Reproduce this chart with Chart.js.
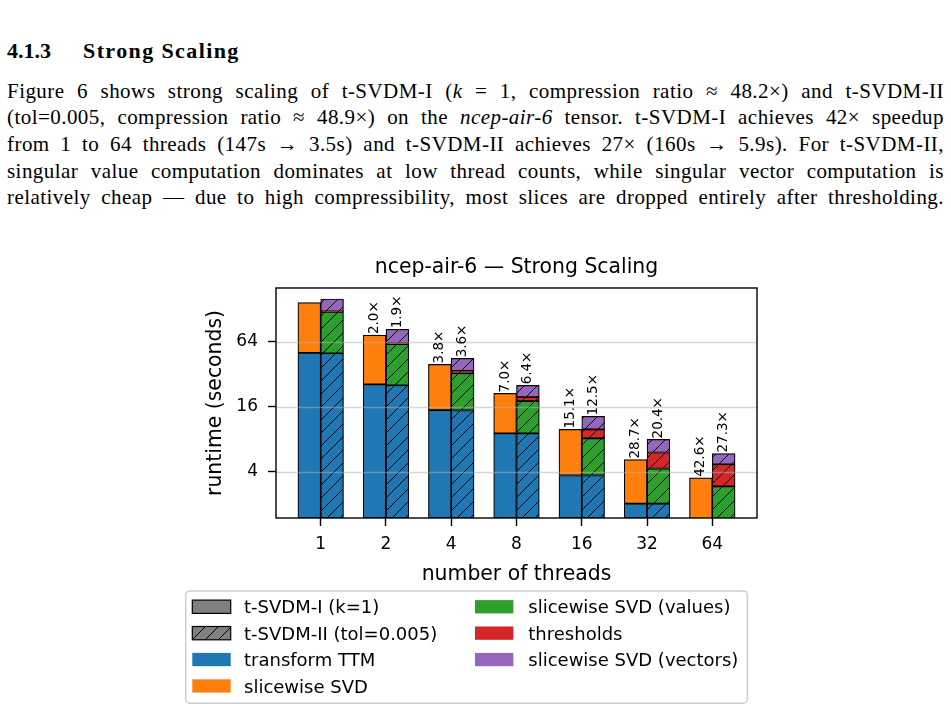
<!DOCTYPE html>
<html lang="en">
<head>
  <meta charset="UTF-8" />
  <title>Strong Scaling</title>
  <script src="https://cdn.jsdelivr.net/npm/chart.js"></script>
  <style>
    body {
      margin: 0;
      width: 951px;
      height: 712px;
      overflow: hidden;
      position: relative;
      background: #fff;
      color: #000;
      font-family: 'Liberation Serif', serif;
    }

    h3 {
      position: absolute;
      left: 7px;
      top: 38.5px;
      margin: 0;
      font-size: 22px;
      line-height: 24px;
      font-weight: bold;
    }

    h3 .num {
      display: inline-block;
      width: 76px;
    }

    h3 .name {
      letter-spacing: 1.4px;
    }

    .para {
      position: absolute;
      left: 7px;
      top: 77.6px;
      width: 937px;
      font-size: 21px;
      letter-spacing: 0.45px;
    }

    .para div {
      height: 26.7px;
      line-height: 26.7px;
      text-align: justify;
      text-align-last: justify;
    }

    canvas {
      position: absolute;
      left: 0;
      top: 0;
    }
  </style>
</head>
<body>

  <h3><span class="num">4.1.3</span><span class="name">Strong Scaling</span></h3>

  <div class="para">
    <div>Figure 6 shows strong scaling of t-SVDM-I (<i>k</i> = 1, compression ratio ≈ 48.2×) and t-SVDM-II</div>
    <div>(tol=0.005, compression ratio ≈ 48.9×) on the <i>ncep-air-6</i> tensor. t-SVDM-I achieves 42× speedup</div>
    <div>from 1 to 64 threads (147s → 3.5s) and t-SVDM-II achieves 27× (160s → 5.9s). For t-SVDM-II,</div>
    <div>singular value computation dominates at low thread counts, while singular vector computation is</div>
    <div>relatively cheap — due to high compressibility, most slices are dropped entirely after thresholding.</div>
  </div>

  <canvas id="chart" width="951" height="712"></canvas>

  <script>
    // runtimes in seconds, per thread count
    const threads = ['1', '2', '4', '8', '16', '32', '64'];
    const ttmI = [50.6, 25.8, 14.9, 9.08, 3.71, 2.04, 1.0];
    const svdI = [96.4, 48.0, 24.6, 12.2, 6.18, 3.17, 2.53];
    const ttmII = [50.0, 25.3, 14.8, 9.08, 3.71, 2.04, 1.0];
    const valuesII = [70.6, 35.6, 17.9, 9.0, 4.45, 2.26, 1.94];
    const thresholdsII = [1.5, 1.5, 1.8, 1.6, 1.73, 1.75, 1.77];
    const vectorsII = [36.9, 21.0, 10.4, 5.6, 3.16, 1.94, 1.21];
    const speedupI = [null, 2.0, 3.8, 7.0, 15.1, 28.7, 42.6];
    const speedupII = [null, 1.9, 3.6, 6.4, 12.5, 20.4, 27.3];
    const yTicks = [4, 16, 64];

    const FONT = "'DejaVu Sans', sans-serif";
    Chart.defaults.font.family = FONT;
    Chart.defaults.color = '#000';

    const colors = {
      ttm: '#1f77b4',
      svd: '#ff7f0e',
      values: '#2ca02c',
      thresholds: '#d62728',
      vectors: '#9467bd',
      grey: '#808080'
    };

    function hatch(color) {
      const n = 13;
      const c = document.createElement('canvas');
      c.width = n;
      c.height = n;
      const g = c.getContext('2d');
      g.fillStyle = color;
      g.fillRect(0, 0, n, n);
      g.strokeStyle = '#000';
      g.lineWidth = 1;
      g.beginPath();
      g.moveTo(0, n); g.lineTo(n, 0);
      g.moveTo(-n / 2, n / 2); g.lineTo(n / 2, -n / 2);
      g.moveTo(n / 2, n * 1.5); g.lineTo(n * 1.5, n / 2);
      g.stroke();
      return g.createPattern(c, 'repeat');
    }

    const pts = arr => arr.map((v, i) => ({ x: i, y: v }));

    const barStyle = {
      borderColor: '#000',
      borderWidth: 1.2,
      borderSkipped: false,
      barThickness: 22.8,
      clip: 0
    };

    const datasets = [
      { label: 'transform TTM', data: pts(ttmI), backgroundColor: colors.ttm, stack: 'I' },
      { label: 'slicewise SVD', data: pts(svdI), backgroundColor: colors.svd, stack: 'I' },
      { label: 'transform TTM', data: pts(ttmII), backgroundColor: hatch(colors.ttm), stack: 'II' },
      { label: 'slicewise SVD (values)', data: pts(valuesII), backgroundColor: hatch(colors.values), stack: 'II' },
      { label: 'thresholds', data: pts(thresholdsII), backgroundColor: hatch(colors.thresholds), stack: 'II' },
      { label: 'slicewise SVD (vectors)', data: pts(vectorsII), backgroundColor: hatch(colors.vectors), stack: 'II' }
    ].map(d => Object.assign({}, barStyle, d));

    // grid on top of bars, axes frame, speedup labels and the legend
    const overlay = {
      id: 'overlay',
      afterDatasetsDraw(chart) {
        const { ctx, chartArea: a, scales } = chart;
        ctx.save();
        ctx.strokeStyle = 'rgba(176,176,176,0.5)';
        ctx.lineWidth = 1.3;
        yTicks.forEach(v => {
          const y = Math.round(scales.y.getPixelForValue(v)) + 0.5;
          ctx.beginPath();
          ctx.moveTo(a.left, y);
          ctx.lineTo(a.right, y);
          ctx.stroke();
        });
        ctx.strokeStyle = '#000';
        ctx.lineWidth = 1.4;
        ctx.strokeRect(a.left, a.top, a.right - a.left, a.bottom - a.top);

        ctx.fillStyle = '#000';
        ctx.font = '13.5px ' + FONT;
        ctx.textAlign = 'left';
        ctx.textBaseline = 'middle';
        [[1, speedupI], [5, speedupII]].forEach(([di, sp]) => {
          const meta = chart.getDatasetMeta(di);
          sp.forEach((s, i) => {
            if (s === null) return;
            const el = meta.data[i];
            ctx.save();
            ctx.translate(el.x, el.y - 1);
            ctx.rotate(-Math.PI / 2);
            ctx.fillText(s.toFixed(1) + '×', 0, 0);
            ctx.restore();
          });
        });
        ctx.restore();
      },
      afterDraw(chart) {
        const ctx = chart.ctx;
        ctx.save();
        ctx.beginPath();
        ctx.roundRect(185.7, 591, 561.6, 112.3, 4);
        ctx.fillStyle = '#fff';
        ctx.fill();
        ctx.strokeStyle = 'rgba(204,204,204,1)';
        ctx.lineWidth = 1.4;
        ctx.stroke();

        const items = [
          [0, 0, 't-SVDM-I (k=1)', colors.grey, true],
          [0, 1, 't-SVDM-II (tol=0.005)', hatch(colors.grey), true],
          [0, 2, 'transform TTM', colors.ttm, false],
          [0, 3, 'slicewise SVD', colors.svd, false],
          [1, 0, 'slicewise SVD (values)', colors.values, false],
          [1, 1, 'thresholds', colors.thresholds, false],
          [1, 2, 'slicewise SVD (vectors)', colors.vectors, false]
        ];
        const handleX = [192.3, 475];
        const textX = [244, 528.3];
        ctx.font = '18px ' + FONT;
        ctx.textBaseline = 'alphabetic';
        ctx.textAlign = 'left';
        items.forEach(([col, row, text, fill, edged]) => {
          const cy = 606.7 + row * 26.4;
          ctx.fillStyle = fill;
          ctx.fillRect(handleX[col], cy - 6.6, 38.4, 13.3);
          if (edged) {
            ctx.strokeStyle = '#000';
            ctx.lineWidth = 1.2;
            ctx.strokeRect(handleX[col], cy - 6.6, 38.4, 13.3);
          }
          ctx.fillStyle = '#000';
          ctx.fillText(text, textX[col], cy + 6.6);
        });
        ctx.restore();
      }
    };

    new Chart(document.getElementById('chart').getContext('2d'), {
      type: 'bar',
      data: { datasets: datasets },
      options: {
        responsive: false,
        animation: false,
        devicePixelRatio: 1,
        layout: { padding: { left: 190, right: 194, top: 0, bottom: 124 } },
        plugins: {
          legend: { display: false },
          tooltip: { enabled: false },
          title: {
            display: true,
            text: 'ncep-air-6 — Strong Scaling',
            fullSize: false,
            color: '#000',
            font: { size: 20.4, weight: 'normal', lineHeight: 1.2 },
            padding: { top: 255.5, bottom: 8 }
          }
        },
        scales: {
          x: {
            type: 'linear',
            min: -0.685,
            max: 6.685,
            offset: false,
            grid: { display: true, drawOnChartArea: false, drawTicks: true, tickLength: 8, tickColor: '#000', tickWidth: 1.4, offset: false },
            border: { display: false },
            ticks: {
              color: '#000',
              font: { size: 17 },
              padding: 8,
              autoSkip: false,
              maxRotation: 0,
              callback: v => threads[v] ?? ''
            },
            afterBuildTicks: s => { s.ticks = threads.map((t, i) => ({ value: i })); },
            afterFit: s => { s.height = 70; },
            title: { display: true, text: 'number of threads', color: '#000', font: { size: 20.4 }, padding: { top: 0, bottom: 1.2 } }
          },
          y: {
            type: 'logarithmic',
            min: 1.5,
            max: 201,
            bounds: 'data',
            stacked: true,
            grid: { drawOnChartArea: false, tickLength: 8, tickColor: '#000', tickWidth: 1.4 },
            border: { display: false },
            ticks: { color: '#000', font: { size: 17 }, padding: 10, callback: v => String(v) },
            afterBuildTicks: s => { s.ticks = yTicks.map(v => ({ value: v })); },
            afterFit: s => { s.width = 86; },
            title: { display: true, text: 'runtime (seconds)', color: '#000', font: { size: 20.4 }, padding: { top: 13.3, bottom: 0 } }
          }
        }
      },
      plugins: [overlay]
    });
  </script>

</body>
</html>
